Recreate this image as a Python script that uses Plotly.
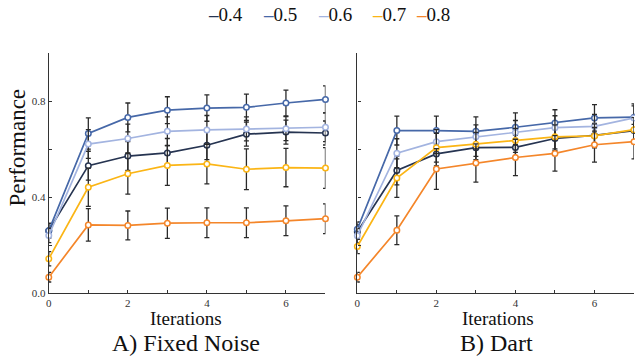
import plotly.graph_objects as go

iterations = [0, 1, 2, 3, 4, 5, 6, 7]
noise_levels = ["0.4", "0.5", "0.6", "0.7", "0.8"]
colors = ["#263451", "#4668a8", "#a3b4e0", "#fbb515", "#f4862a"]

# A) Fixed Noise
fixed_04 = [0.26, 0.531, 0.571, 0.584, 0.616, 0.662, 0.671, 0.667]
fixed_05 = [0.26, 0.665, 0.732, 0.762, 0.771, 0.774, 0.792, 0.807]
fixed_06 = [0.24, 0.621, 0.644, 0.674, 0.680, 0.684, 0.685, 0.691]
fixed_07 = [0.143, 0.441, 0.497, 0.532, 0.538, 0.516, 0.523, 0.521]
fixed_08 = [0.066, 0.284, 0.282, 0.291, 0.293, 0.293, 0.301, 0.310]
fixed_err_04 = [0.03, 0.06, 0.06, 0.06, 0.06, 0.05, 0.05, 0.05]
fixed_err_05 = [0.03, 0.065, 0.06, 0.056, 0.055, 0.055, 0.054, 0.056]
fixed_err_06 = [0.03, 0.06, 0.06, 0.06, 0.06, 0.05, 0.05, 0.06]
fixed_err_07 = [0.03, 0.08, 0.085, 0.083, 0.083, 0.085, 0.08, 0.085]
fixed_err_08 = [0.02, 0.068, 0.06, 0.063, 0.062, 0.062, 0.062, 0.062]

# B) Dart
dart_04 = [0.255, 0.511, 0.580, 0.606, 0.607, 0.644, 0.657, 0.677]
dart_05 = [0.266, 0.677, 0.677, 0.674, 0.691, 0.709, 0.730, 0.733]
dart_06 = [0.239, 0.583, 0.631, 0.651, 0.669, 0.689, 0.695, 0.730]
dart_07 = [0.194, 0.479, 0.606, 0.620, 0.636, 0.651, 0.655, 0.681]
dart_08 = [0.066, 0.262, 0.517, 0.542, 0.565, 0.582, 0.618, 0.631]
dart_err_04 = [0.03, 0.06, 0.05, 0.05, 0.05, 0.05, 0.05, 0.05]
dart_err_05 = [0.03, 0.06, 0.06, 0.06, 0.06, 0.055, 0.055, 0.055]
dart_err_06 = [0.03, 0.06, 0.05, 0.05, 0.05, 0.05, 0.05, 0.05]
dart_err_07 = [0.03, 0.08, 0.06, 0.05, 0.05, 0.05, 0.05, 0.05]
dart_err_08 = [0.02, 0.06, 0.085, 0.08, 0.076, 0.074, 0.072, 0.072]

x_tickvals = [0, 1, 2, 3, 4, 5, 6, 7]
x_ticktext = ["0", "", "2", "", "4", "", "6", ""]
y_tickvals = [0.0, 0.2, 0.4, 0.6, 0.8, 1.0]
y_ticktext = ["0.0", "", "0.4", "", "0.8", ""]

panel_titles = ["A) Fixed Noise", "B) Dart"]
x_title = "Iterations"
y_title = "Performance"

FONT = "'Liberation Serif', 'Times New Roman', Times, serif"
W, H = 635, 361

fixed = [fixed_04, fixed_05, fixed_06, fixed_07, fixed_08]
fixed_err = [fixed_err_04, fixed_err_05, fixed_err_06, fixed_err_07, fixed_err_08]
dart = [dart_04, dart_05, dart_06, dart_07, dart_08]
dart_err = [dart_err_04, dart_err_05, dart_err_06, dart_err_07, dart_err_08]

fig = go.Figure()

for panel, (vals, errs) in enumerate([(fixed, fixed_err), (dart, dart_err)]):
    xa = "x" if panel == 0 else "x2"
    ya = "y" if panel == 0 else "y2"
    for name, c, v, e in zip(noise_levels, colors, vals, errs):
        fig.add_trace(go.Scatter(
            x=iterations, y=v, name=name, xaxis=xa, yaxis=ya,
            mode="lines+markers",
            line=dict(color=c, width=1.7),
            marker=dict(symbol="circle", size=5.5, color="white",
                        line=dict(color=c, width=1.5)),
            error_y=dict(type="data", array=e, visible=True,
                         color="#2a2a2a", thickness=1.3, width=2.5),
            cliponaxis=False, showlegend=False,
        ))

axis_common = dict(
    showline=True, linecolor="#333333", linewidth=1.4,
    ticks="inside", ticklen=3, tickcolor="#333333", tickwidth=1.2,
    showgrid=False, zeroline=False,
    tickfont=dict(family=FONT, size=11, color="#333333"),
)

x0a, x1a = 46 / W, 324 / W
x0b, x1b = 356 / W, 634 / W
y0, y1 = 1 - 298 / H, 1 - 54 / H

fig.update_layout(
    width=W, height=H,
    margin=dict(l=0, r=0, t=0, b=0),
    paper_bgcolor="white", plot_bgcolor="white",
    font=dict(family=FONT),
    xaxis=dict(domain=[x0a, x1a], range=[0, 7], tickvals=x_tickvals,
               ticktext=x_ticktext, anchor="y", **axis_common),
    yaxis=dict(domain=[y0, y1], range=[0, 1], tickvals=y_tickvals,
               ticktext=y_ticktext, anchor="x", **axis_common),
    xaxis2=dict(domain=[x0b, x1b], range=[0, 7], tickvals=x_tickvals,
                ticktext=x_ticktext, anchor="y2", **axis_common),
    yaxis2=dict(domain=[y0, y1], range=[0, 1], tickvals=y_tickvals,
                ticktext=[""] * len(y_tickvals), anchor="x2", **axis_common),
)

ann = []
for cx in [184, 497]:
    ann.append(dict(text=x_title, x=cx / W, y=1 - 324 / H, xref="paper", yref="paper",
                    showarrow=False, xanchor="center", yanchor="middle",
                    font=dict(family=FONT, size=19, color="#111111")))
for cx, t in zip([184, 496], panel_titles):
    ann.append(dict(text=t, x=cx / W, y=1 - 349 / H, xref="paper", yref="paper",
                    showarrow=False, xanchor="center", yanchor="middle",
                    font=dict(family=FONT, size=24, color="#111111")))
ann.append(dict(text=y_title, x=15 / W, y=1 - 150 / H, xref="paper", yref="paper",
                showarrow=False, xanchor="center", yanchor="middle", textangle=-90,
                font=dict(family=FONT, size=23, color="#111111")))

legend_left = [204, 259, 314, 369, 413]
for lx, name, c in zip(legend_left, noise_levels, colors):
    ann.append(dict(text=f"<span style='color:{c}'><b>–</b></span>{name}",
                    x=lx / W, y=1 - 15 / H, xref="paper", yref="paper",
                    showarrow=False, xanchor="left", yanchor="middle",
                    font=dict(family=FONT, size=19, color="#111111")))

fig.update_layout(annotations=ann)

fig.write_html("out.html")
